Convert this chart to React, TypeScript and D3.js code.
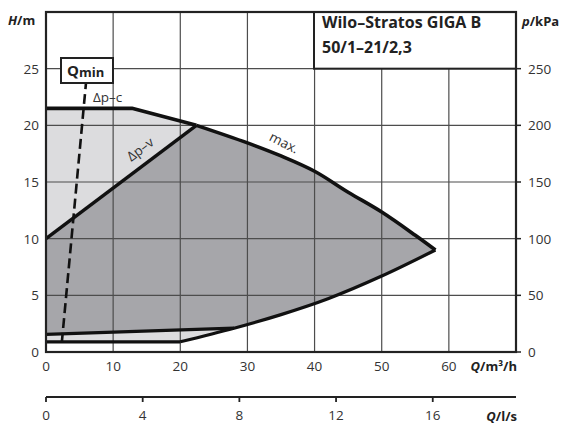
import React from "react";
import * as d3 from "d3";

// Data (Q in m³/h, H in m)
const maxFlat: [number, number][] = [[0, 21.5], [12.8, 21.5], [22.4, 20.0]];
const maxSmooth: [number, number][] = [
  [22.4, 20.0], [30, 18.45], [35, 17.3], [40, 15.95], [45, 14.1], [50, 12.35], [55, 10.3], [58, 9.0],
];
const dpvMaxLine: [number, number][] = [[0, 10], [22.4, 20.0]];
const dpvMinLine: [number, number][] = [[0, 1.55], [28, 2.1]];
const dpcMinLine: [number, number][] = [[0, 0.9], [20, 0.9]];
const lowerCurve: [number, number][] = [[20, 0.9], [28, 2.1], [35, 3.3], [42, 4.7], [50, 6.7], [58, 9.0]];
const qminLine: [number, number][] = [[2.35, 0.8], [5.95, 23.7]];

const qTicks = [0, 10, 20, 30, 40, 50, 60];
const hTicks = [0, 5, 10, 15, 20, 25];
const pTicks = [0, 50, 100, 150, 200, 250];
const lsTicks = [0, 4, 8, 12, 16];

const FONT = "'Open Sans', 'DejaVu Sans', sans-serif";
const TXT = "#333";

export default function App() {
  const x = d3.scaleLinear().domain([0, 70]).range([46, 516]);
  const y = d3.scaleLinear().domain([0, 30]).range([352, 12]);
  const yp = d3.scaleLinear().domain([0, 300]).range([352, 12]);
  const xls = d3.scaleLinear().domain([0, 70 / 3.6]).range([46, 516]);
  const line = d3.line<[number, number]>().x((d) => x(d[0])).y((d) => y(d[1]));
  const smooth = d3.line<[number, number]>().x((d) => x(d[0])).y((d) => y(d[1])).curve(d3.curveCatmullRom.alpha(0.5));

  // join path strings: subsequent segments continue with L instead of M
  const join = (...parts: string[]) =>
    parts.map((p, i) => (i === 0 ? p : "L" + p.slice(1))).join("") + "Z";

  const lowerRev = lowerCurve.slice().reverse();
  const lightD = join(
    line(maxFlat)!,
    smooth(maxSmooth)!,
    smooth(lowerRev)!,
    line([[20, 0.9], [0, 0.9]])!
  );
  const lowerFrom28 = lowerCurve.filter((d) => d[0] >= 28).reverse();
  const darkD = join(
    line(dpvMaxLine)!,
    smooth(maxSmooth)!,
    smooth(lowerFrom28)!,
    line(dpvMinLine.slice().reverse())!
  );

  const x0 = x(0), x1 = x(70), y0 = y(0), y1 = y(30);

  return (
    <svg width={566} height={426} style={{ position: "absolute", left: 0, top: 0, background: "#fff" }} fontFamily={FONT}>
      <rect x={0} y={0} width={566} height={426} fill="#fff" />
      {/* fills */}
      <path d={lightD} fill="#dcdcde" />
      <path d={darkD} fill="#a6a6aa" />
      {/* grid */}
      {qTicks.filter((q) => q > 0).map((q) => (
        <line key={"gx" + q} x1={x(q)} x2={x(q)} y1={y0} y2={y1} stroke="#4d4d4d" strokeWidth={1.2} />
      ))}
      {hTicks.filter((h) => h > 0).map((h) => (
        <line key={"gy" + h} x1={x0} x2={x1} y1={y(h)} y2={y(h)} stroke="#4d4d4d" strokeWidth={1.2} />
      ))}
      {/* title box */}
      <rect x={314} y={y1} width={x1 - 314} height={y(25) - y1} fill="#fff" stroke="#222" strokeWidth={2} />
      <text x={322} y={28} fontSize={16} fontWeight={700} fill="#222">Wilo–Stratos GIGA B</text>
      <text x={322} y={52.5} fontSize={16} fontWeight={700} fill="#222">50/1–21/2,3</text>
      {/* curves */}
      <g fill="none" stroke="#111" strokeLinejoin="round">
        <path d={line(maxFlat)!} strokeWidth={3.6} />
        <path d={smooth(maxSmooth)!} strokeWidth={3.6} />
        <path d={line(dpvMaxLine)!} strokeWidth={3.4} />
        <path d={line(dpvMinLine)!} strokeWidth={3.2} />
        <path d={line(dpcMinLine)!} strokeWidth={3.2} />
        <path d={smooth(lowerCurve)!} strokeWidth={3.2} />
        <path d={line(qminLine)!} strokeWidth={2.6} strokeDasharray="10,5" />
      </g>
      {/* Qmin box */}
      <rect x={61} y={58} width={52} height={25} fill="#fff" stroke="#222" strokeWidth={2} />
      <text x={67} y={76} fontSize={15} fontWeight={700} fill="#222">
        Q<tspan fontSize={13} dy={1}>min</tspan>
      </text>
      {/* curve labels */}
      <text x={93} y={102} fontSize={13.5} fill={TXT}>Δp–c</text>
      <text x={0} y={0} fontSize={13.5} fill={TXT} textAnchor="middle" transform={`translate(143,153) rotate(-37)`}>Δp–v</text>
      <text x={0} y={0} fontSize={13.5} fill={TXT} textAnchor="middle" transform={`translate(282,147) rotate(27)`}>max.</text>
      {/* frame */}
      <rect x={x0} y={y1} width={x1 - x0} height={y0 - y1} fill="none" stroke="#222" strokeWidth={2.2} />
      {/* left axis labels */}
      {hTicks.map((h) => (
        <text key={"hl" + h} x={39} y={y(h) + 5} fontSize={13.5} fill={TXT} textAnchor="end">{h}</text>
      ))}
      <text x={8} y={25} fontSize={13} fontWeight={700} fill="#222">
        <tspan fontStyle="italic">H</tspan>/m
      </text>
      {/* right axis */}
      {pTicks.map((p) => (
        <g key={"pl" + p}>
          <line x1={x1} x2={x1 + 5} y1={yp(p)} y2={yp(p)} stroke="#222" strokeWidth={1.5} />
          <text x={528} y={yp(p) + 5} fontSize={13.5} fill={TXT}>{p}</text>
        </g>
      ))}
      <text x={522} y={26} fontSize={13} fontWeight={700} fill="#222">
        <tspan fontStyle="italic">p</tspan>/kPa
      </text>
      {/* bottom axis Q m3/h */}
      {qTicks.map((q) => (
        <text key={"ql" + q} x={x(q)} y={371} fontSize={13.5} fill={TXT} textAnchor="middle">{q}</text>
      ))}
      <text x={517} y={371} fontSize={13} fontWeight={700} fill="#222" textAnchor="end">
        <tspan fontStyle="italic">Q</tspan>/m³/h
      </text>
      {/* second axis l/s */}
      <line x1={x0} x2={x1} y1={397} y2={397} stroke="#222" strokeWidth={1.8} />
      {lsTicks.map((t) => (
        <g key={"ls" + t}>
          <line x1={xls(t)} x2={xls(t)} y1={397} y2={402} stroke="#222" strokeWidth={1.8} />
          <text x={xls(t)} y={420} fontSize={13.5} fill={TXT} textAnchor="middle">{t}</text>
        </g>
      ))}
      <text x={517} y={421} fontSize={13} fontWeight={700} fill="#222" textAnchor="end">
        <tspan fontStyle="italic">Q</tspan>/l/s
      </text>
    </svg>
  );
}
